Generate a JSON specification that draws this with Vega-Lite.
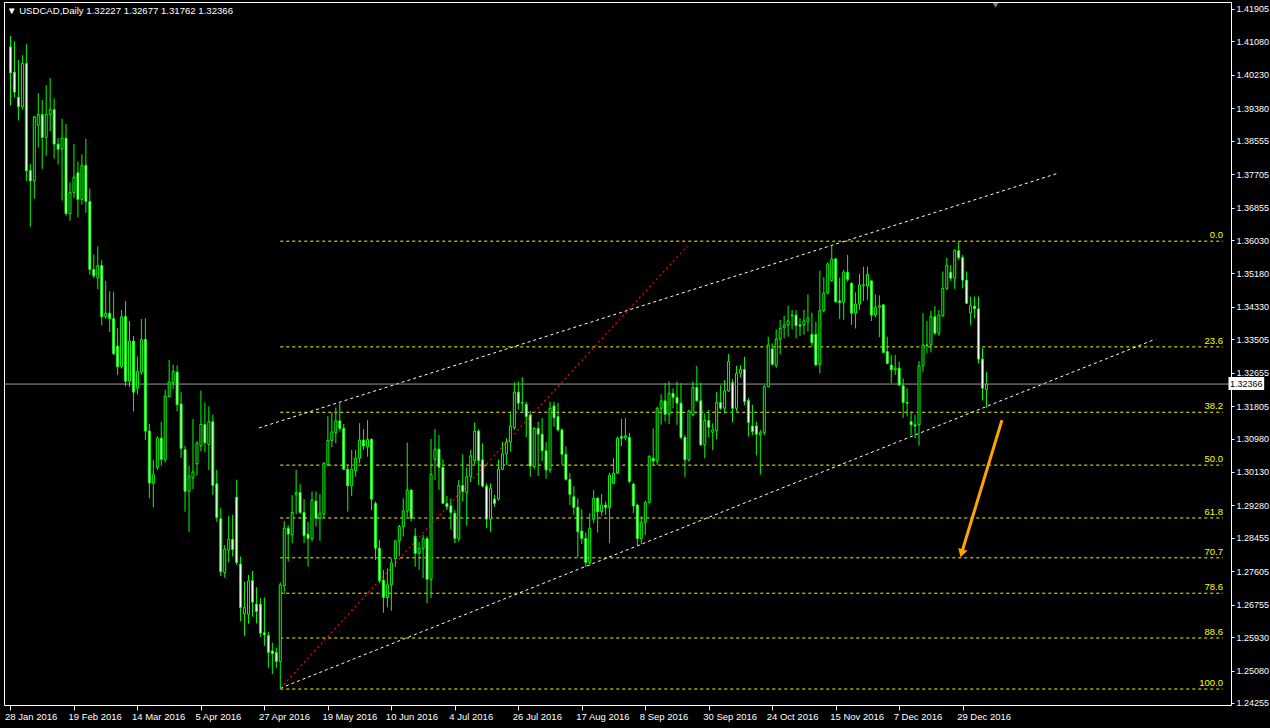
{
  "$schema": "https://vega.github.io/schema/vega-lite/v6.json",
  "width": 1227,
  "height": 703,
  "autosize": {"type": "none"},
  "padding": {"left": 4, "top": 2, "right": 39, "bottom": 23},
  "background": "#000000",
  "config": {"view": {"stroke": "#ffffff", "strokeWidth": 1}, "font": "Liberation Sans"},
  "title": {"text": "▼ USDCAD,Daily  1.32227 1.32677 1.31762 1.32366", "anchor": "start", "frame": "group", "offset": -14, "color": "#ffffff", "fontSize": 9.6, "fontWeight": "normal", "font": "Liberation Sans", "dx": 3},
  "resolve": {"axis": {"x": "independent", "y": "independent"}},
  "datasets": {
    "candles": [
      {"i":0,"o":1.4094,"h":1.4122,"l":1.3945,"c":1.4028},
      {"i":1,"o":1.4030,"h":1.4108,"l":1.3966,"c":1.3979},
      {"i":2,"o":1.3966,"h":1.4061,"l":1.3907,"c":1.3942},
      {"i":3,"o":1.3942,"h":1.4073,"l":1.3935,"c":1.4052},
      {"i":4,"o":1.4052,"h":1.4101,"l":1.3753,"c":1.3779},
      {"i":5,"o":1.3780,"h":1.3797,"l":1.3637,"c":1.3753},
      {"i":6,"o":1.3753,"h":1.3919,"l":1.3708,"c":1.3916},
      {"i":7,"o":1.3895,"h":1.3976,"l":1.3838,"c":1.3922},
      {"i":8,"o":1.3922,"h":1.3959,"l":1.3784,"c":1.3864},
      {"i":9,"o":1.3864,"h":1.3997,"l":1.3817,"c":1.3922},
      {"i":10,"o":1.3922,"h":1.4015,"l":1.3880,"c":1.3935},
      {"i":11,"o":1.3935,"h":1.3963,"l":1.3810,"c":1.3847},
      {"i":12,"o":1.3847,"h":1.3862,"l":1.3795,"c":1.3834},
      {"i":13,"o":1.3834,"h":1.3911,"l":1.3703,"c":1.3862},
      {"i":14,"o":1.3862,"h":1.3898,"l":1.3665,"c":1.3670},
      {"i":15,"o":1.3670,"h":1.3750,"l":1.3652,"c":1.3724},
      {"i":16,"o":1.3724,"h":1.3847,"l":1.3709,"c":1.3763},
      {"i":17,"o":1.3774,"h":1.3803,"l":1.3660,"c":1.3706},
      {"i":18,"o":1.3706,"h":1.3821,"l":1.3693,"c":1.3793},
      {"i":19,"o":1.3793,"h":1.3860,"l":1.3672,"c":1.3701},
      {"i":20,"o":1.3701,"h":1.3734,"l":1.3514,"c":1.3528},
      {"i":21,"o":1.3528,"h":1.3566,"l":1.3506,"c":1.3512},
      {"i":22,"o":1.3507,"h":1.3587,"l":1.3478,"c":1.3538},
      {"i":23,"o":1.3538,"h":1.3552,"l":1.3386,"c":1.3408},
      {"i":24,"o":1.3408,"h":1.3499,"l":1.3402,"c":1.3417},
      {"i":25,"o":1.3417,"h":1.3473,"l":1.3369,"c":1.3403},
      {"i":26,"o":1.3403,"h":1.3471,"l":1.3310,"c":1.3314},
      {"i":27,"o":1.3333,"h":1.3379,"l":1.3260,"c":1.3281},
      {"i":28,"o":1.3281,"h":1.3425,"l":1.3276,"c":1.3408},
      {"i":29,"o":1.3408,"h":1.3448,"l":1.3231,"c":1.3244},
      {"i":30,"o":1.3244,"h":1.3397,"l":1.3229,"c":1.3346},
      {"i":31,"o":1.3346,"h":1.3359,"l":1.3167,"c":1.3216},
      {"i":32,"o":1.3226,"h":1.3307,"l":1.3210,"c":1.3269},
      {"i":33,"o":1.3267,"h":1.3402,"l":1.3260,"c":1.3350},
      {"i":34,"o":1.3350,"h":1.3404,"l":1.3094,"c":1.3117},
      {"i":35,"o":1.3117,"h":1.3135,"l":1.2946,"c":1.2985},
      {"i":36,"o":1.2985,"h":1.3044,"l":1.2923,"c":1.3006},
      {"i":37,"o":1.3024,"h":1.3104,"l":1.3018,"c":1.3099},
      {"i":38,"o":1.3099,"h":1.3141,"l":1.3029,"c":1.3045},
      {"i":39,"o":1.3044,"h":1.3222,"l":1.3037,"c":1.3206},
      {"i":40,"o":1.3205,"h":1.3298,"l":1.3203,"c":1.3242},
      {"i":41,"o":1.3240,"h":1.3286,"l":1.3224,"c":1.3269},
      {"i":42,"o":1.3267,"h":1.3284,"l":1.3167,"c":1.3184},
      {"i":43,"o":1.3186,"h":1.3216,"l":1.3049,"c":1.3073},
      {"i":44,"o":1.3070,"h":1.3080,"l":1.2912,"c":1.2964},
      {"i":45,"o":1.2964,"h":1.3029,"l":1.2860,"c":1.3003},
      {"i":46,"o":1.2998,"h":1.3148,"l":1.2969,"c":1.3013},
      {"i":47,"o":1.3034,"h":1.3091,"l":1.3004,"c":1.3087},
      {"i":48,"o":1.3080,"h":1.3220,"l":1.3066,"c":1.3134},
      {"i":49,"o":1.3134,"h":1.3190,"l":1.3063,"c":1.3087},
      {"i":50,"o":1.3083,"h":1.3180,"l":1.3018,"c":1.3141},
      {"i":51,"o":1.3141,"h":1.3159,"l":1.2954,"c":1.2979},
      {"i":52,"o":1.2983,"h":1.3018,"l":1.2886,"c":1.2897},
      {"i":53,"o":1.2894,"h":1.2921,"l":1.2748,"c":1.2759},
      {"i":54,"o":1.2757,"h":1.2827,"l":1.2744,"c":1.2817},
      {"i":55,"o":1.2814,"h":1.2901,"l":1.2783,"c":1.2842},
      {"i":56,"o":1.2842,"h":1.2904,"l":1.2798,"c":1.2816},
      {"i":57,"o":1.2949,"h":1.2993,"l":1.2777,"c":1.2783},
      {"i":58,"o":1.2779,"h":1.2798,"l":1.2634,"c":1.2668},
      {"i":59,"o":1.2653,"h":1.2734,"l":1.2596,"c":1.2668},
      {"i":60,"o":1.2651,"h":1.2751,"l":1.2627,"c":1.2736},
      {"i":61,"o":1.2737,"h":1.2761,"l":1.2645,"c":1.2682},
      {"i":62,"o":1.2677,"h":1.2720,"l":1.2628,"c":1.2658},
      {"i":63,"o":1.2677,"h":1.2692,"l":1.2594,"c":1.2603},
      {"i":64,"o":1.2604,"h":1.2694,"l":1.2571,"c":1.2599},
      {"i":65,"o":1.2597,"h":1.2606,"l":1.2515,"c":1.2554},
      {"i":66,"o":1.2558,"h":1.2579,"l":1.2499,"c":1.2551},
      {"i":67,"o":1.2554,"h":1.2566,"l":1.2514,"c":1.2531},
      {"i":68,"o":1.2531,"h":1.2732,"l":1.2461,"c":1.2726},
      {"i":69,"o":1.2724,"h":1.2888,"l":1.2703,"c":1.2870},
      {"i":70,"o":1.2870,"h":1.2878,"l":1.2785,"c":1.2855},
      {"i":71,"o":1.2853,"h":1.2954,"l":1.2832,"c":1.2910},
      {"i":72,"o":1.2955,"h":1.3018,"l":1.2906,"c":1.2961},
      {"i":73,"o":1.2961,"h":1.2983,"l":1.2906,"c":1.2910},
      {"i":74,"o":1.2910,"h":1.2944,"l":1.2832,"c":1.2851},
      {"i":75,"o":1.2855,"h":1.2887,"l":1.2772,"c":1.2844},
      {"i":76,"o":1.2844,"h":1.2963,"l":1.2836,"c":1.2942},
      {"i":77,"o":1.2939,"h":1.2963,"l":1.2874,"c":1.2895},
      {"i":78,"o":1.2895,"h":1.2957,"l":1.2838,"c":1.2908},
      {"i":79,"o":1.2906,"h":1.3038,"l":1.2895,"c":1.3035},
      {"i":80,"o":1.3032,"h":1.3155,"l":1.3027,"c":1.3093},
      {"i":81,"o":1.3093,"h":1.3164,"l":1.3076,"c":1.3115},
      {"i":82,"o":1.3113,"h":1.3177,"l":1.3086,"c":1.3143},
      {"i":83,"o":1.3143,"h":1.3189,"l":1.3116,"c":1.3124},
      {"i":84,"o":1.3124,"h":1.3135,"l":1.3018,"c":1.3020},
      {"i":85,"o":1.3020,"h":1.3031,"l":1.2912,"c":1.2978},
      {"i":86,"o":1.2978,"h":1.3069,"l":1.2952,"c":1.3020},
      {"i":87,"o":1.3016,"h":1.3069,"l":1.3001,"c":1.3048},
      {"i":88,"o":1.3048,"h":1.3137,"l":1.3035,"c":1.3094},
      {"i":89,"o":1.3094,"h":1.3122,"l":1.3069,"c":1.3079},
      {"i":90,"o":1.3077,"h":1.3145,"l":1.3052,"c":1.3096},
      {"i":91,"o":1.3096,"h":1.3099,"l":1.2916,"c":1.2944},
      {"i":92,"o":1.2933,"h":1.2938,"l":1.2789,"c":1.2819},
      {"i":93,"o":1.2819,"h":1.2840,"l":1.2730,"c":1.2737},
      {"i":94,"o":1.2738,"h":1.2764,"l":1.2655,"c":1.2694},
      {"i":95,"o":1.2694,"h":1.2768,"l":1.2669,"c":1.2726},
      {"i":96,"o":1.2726,"h":1.2793,"l":1.2660,"c":1.2782},
      {"i":97,"o":1.2793,"h":1.2840,"l":1.2772,"c":1.2838},
      {"i":98,"o":1.2838,"h":1.2878,"l":1.2798,"c":1.2874},
      {"i":99,"o":1.2874,"h":1.2946,"l":1.2849,"c":1.2914},
      {"i":100,"o":1.2914,"h":1.3088,"l":1.2899,"c":1.2967},
      {"i":101,"o":1.2967,"h":1.2969,"l":1.2887,"c":1.2895},
      {"i":102,"o":1.2850,"h":1.2870,"l":1.2772,"c":1.2806},
      {"i":103,"o":1.2806,"h":1.2836,"l":1.2764,"c":1.2819},
      {"i":104,"o":1.2819,"h":1.2853,"l":1.2743,"c":1.2843},
      {"i":105,"o":1.2844,"h":1.2849,"l":1.2679,"c":1.2740},
      {"i":106,"o":1.2740,"h":1.3097,"l":1.2693,"c":1.3007},
      {"i":107,"o":1.3045,"h":1.3122,"l":1.2993,"c":1.3071},
      {"i":108,"o":1.3071,"h":1.3107,"l":1.2967,"c":1.3025},
      {"i":109,"o":1.3025,"h":1.3045,"l":1.2932,"c":1.2933},
      {"i":110,"o":1.2933,"h":1.2952,"l":1.2916,"c":1.2925},
      {"i":111,"o":1.2927,"h":1.2946,"l":1.2867,"c":1.2910},
      {"i":112,"o":1.2908,"h":1.2916,"l":1.2832,"c":1.2844},
      {"i":113,"o":1.2844,"h":1.2993,"l":1.2836,"c":1.2979},
      {"i":114,"o":1.2979,"h":1.3058,"l":1.2938,"c":1.2963},
      {"i":115,"o":1.2961,"h":1.3025,"l":1.2876,"c":1.3001},
      {"i":116,"o":1.3001,"h":1.3069,"l":1.2988,"c":1.3054},
      {"i":117,"o":1.3042,"h":1.3139,"l":1.3033,"c":1.3117},
      {"i":118,"o":1.3117,"h":1.3122,"l":1.2980,"c":1.3042},
      {"i":119,"o":1.3044,"h":1.3086,"l":1.2974,"c":1.2977},
      {"i":120,"o":1.2977,"h":1.2984,"l":1.2870,"c":1.2893},
      {"i":121,"o":1.2893,"h":1.2984,"l":1.2861,"c":1.2972},
      {"i":122,"o":1.2944,"h":1.2955,"l":1.2925,"c":1.2933},
      {"i":123,"o":1.2944,"h":1.3045,"l":1.2940,"c":1.3020},
      {"i":124,"o":1.3020,"h":1.3090,"l":1.3018,"c":1.3059},
      {"i":125,"o":1.3059,"h":1.3099,"l":1.3031,"c":1.3089},
      {"i":126,"o":1.3089,"h":1.3162,"l":1.3065,"c":1.3130},
      {"i":127,"o":1.3126,"h":1.3241,"l":1.3120,"c":1.3216},
      {"i":128,"o":1.3216,"h":1.3243,"l":1.3172,"c":1.3188},
      {"i":129,"o":1.3188,"h":1.3254,"l":1.3167,"c":1.3190},
      {"i":130,"o":1.3185,"h":1.3192,"l":1.3101,"c":1.3154},
      {"i":131,"o":1.3158,"h":1.3168,"l":1.3001,"c":1.3028},
      {"i":132,"o":1.3027,"h":1.3127,"l":1.3020,"c":1.3124},
      {"i":133,"o":1.3124,"h":1.3141,"l":1.3003,"c":1.3109},
      {"i":134,"o":1.3109,"h":1.3150,"l":1.3041,"c":1.3067},
      {"i":135,"o":1.3067,"h":1.3089,"l":1.2996,"c":1.3018},
      {"i":136,"o":1.3018,"h":1.3192,"l":1.3011,"c":1.3175},
      {"i":137,"o":1.3181,"h":1.3192,"l":1.3128,"c":1.3151},
      {"i":138,"o":1.3154,"h":1.3189,"l":1.3116,"c":1.3120},
      {"i":139,"o":1.3120,"h":1.3124,"l":1.3031,"c":1.3058},
      {"i":140,"o":1.3058,"h":1.3078,"l":1.2991,"c":1.2994},
      {"i":141,"o":1.2994,"h":1.3010,"l":1.2929,"c":1.2956},
      {"i":142,"o":1.2950,"h":1.2977,"l":1.2904,"c":1.2923},
      {"i":143,"o":1.2923,"h":1.2946,"l":1.2796,"c":1.2861},
      {"i":144,"o":1.2863,"h":1.2918,"l":1.2830,"c":1.2844},
      {"i":145,"o":1.2844,"h":1.2859,"l":1.2771,"c":1.2783},
      {"i":146,"o":1.2783,"h":1.2908,"l":1.2774,"c":1.2870},
      {"i":147,"o":1.2893,"h":1.2967,"l":1.2883,"c":1.2946},
      {"i":148,"o":1.2946,"h":1.2950,"l":1.2859,"c":1.2912},
      {"i":149,"o":1.2912,"h":1.2957,"l":1.2901,"c":1.2929},
      {"i":150,"o":1.2929,"h":1.2938,"l":1.2904,"c":1.2923},
      {"i":151,"o":1.2923,"h":1.3011,"l":1.2832,"c":1.3005},
      {"i":152,"o":1.2984,"h":1.3048,"l":1.2983,"c":1.3010},
      {"i":153,"o":1.3010,"h":1.3103,"l":1.3008,"c":1.3099},
      {"i":154,"o":1.3103,"h":1.3148,"l":1.3079,"c":1.3099},
      {"i":155,"o":1.3100,"h":1.3150,"l":1.3093,"c":1.3105},
      {"i":156,"o":1.3101,"h":1.3113,"l":1.2984,"c":1.2989},
      {"i":157,"o":1.2982,"h":1.2986,"l":1.2908,"c":1.2927},
      {"i":158,"o":1.2929,"h":1.2933,"l":1.2827,"c":1.2844},
      {"i":159,"o":1.2844,"h":1.2900,"l":1.2829,"c":1.2885},
      {"i":160,"o":1.2885,"h":1.2940,"l":1.2853,"c":1.2935},
      {"i":161,"o":1.2935,"h":1.3056,"l":1.2933,"c":1.3052},
      {"i":162,"o":1.3048,"h":1.3124,"l":1.3031,"c":1.3041},
      {"i":163,"o":1.3041,"h":1.3179,"l":1.3031,"c":1.3175},
      {"i":164,"o":1.3175,"h":1.3211,"l":1.3133,"c":1.3194},
      {"i":165,"o":1.3194,"h":1.3239,"l":1.3141,"c":1.3160},
      {"i":166,"o":1.3160,"h":1.3243,"l":1.3135,"c":1.3213},
      {"i":167,"o":1.3213,"h":1.3226,"l":1.3175,"c":1.3203},
      {"i":168,"o":1.3203,"h":1.3243,"l":1.3133,"c":1.3188},
      {"i":169,"o":1.3188,"h":1.3239,"l":1.3096,"c":1.3101},
      {"i":170,"o":1.3101,"h":1.3107,"l":1.3001,"c":1.3044},
      {"i":171,"o":1.3044,"h":1.3172,"l":1.3039,"c":1.3168},
      {"i":172,"o":1.3158,"h":1.3243,"l":1.3154,"c":1.3228},
      {"i":173,"o":1.3228,"h":1.3283,"l":1.3192,"c":1.3194},
      {"i":174,"o":1.3194,"h":1.3240,"l":1.3079,"c":1.3082},
      {"i":175,"o":1.3082,"h":1.3162,"l":1.3048,"c":1.3144},
      {"i":176,"o":1.3144,"h":1.3171,"l":1.3101,"c":1.3127},
      {"i":177,"o":1.3114,"h":1.3137,"l":1.3069,"c":1.3120},
      {"i":178,"o":1.3118,"h":1.3217,"l":1.3096,"c":1.3190},
      {"i":179,"o":1.3190,"h":1.3234,"l":1.3171,"c":1.3175},
      {"i":180,"o":1.3175,"h":1.3247,"l":1.3162,"c":1.3219},
      {"i":181,"o":1.3219,"h":1.3313,"l":1.3217,"c":1.3294},
      {"i":182,"o":1.3240,"h":1.3249,"l":1.3139,"c":1.3175},
      {"i":183,"o":1.3175,"h":1.3283,"l":1.3167,"c":1.3264},
      {"i":184,"o":1.3264,"h":1.3285,"l":1.3254,"c":1.3274},
      {"i":185,"o":1.3274,"h":1.3306,"l":1.3183,"c":1.3192},
      {"i":186,"o":1.3195,"h":1.3202,"l":1.3103,"c":1.3139},
      {"i":187,"o":1.3130,"h":1.3184,"l":1.3106,"c":1.3116},
      {"i":188,"o":1.3130,"h":1.3141,"l":1.3055,"c":1.3109},
      {"i":189,"o":1.3107,"h":1.3120,"l":1.3006,"c":1.3113},
      {"i":190,"o":1.3113,"h":1.3234,"l":1.3107,"c":1.3230},
      {"i":191,"o":1.3230,"h":1.3357,"l":1.3228,"c":1.3336},
      {"i":192,"o":1.3326,"h":1.3340,"l":1.3283,"c":1.3287},
      {"i":193,"o":1.3284,"h":1.3376,"l":1.3277,"c":1.3351},
      {"i":194,"o":1.3351,"h":1.3400,"l":1.3312,"c":1.3378},
      {"i":195,"o":1.3380,"h":1.3410,"l":1.3353,"c":1.3387},
      {"i":196,"o":1.3387,"h":1.3436,"l":1.3357,"c":1.3397},
      {"i":197,"o":1.3410,"h":1.3425,"l":1.3376,"c":1.3412},
      {"i":198,"o":1.3412,"h":1.3425,"l":1.3353,"c":1.3385},
      {"i":199,"o":1.3387,"h":1.3404,"l":1.3359,"c":1.3384},
      {"i":200,"o":1.3387,"h":1.3425,"l":1.3362,"c":1.3397},
      {"i":201,"o":1.3395,"h":1.3465,"l":1.3370,"c":1.3404},
      {"i":202,"o":1.3363,"h":1.3418,"l":1.3332,"c":1.3342},
      {"i":203,"o":1.3363,"h":1.3395,"l":1.3283,"c":1.3285},
      {"i":204,"o":1.3287,"h":1.3525,"l":1.3264,"c":1.3423},
      {"i":205,"o":1.3423,"h":1.3508,"l":1.3419,"c":1.3468},
      {"i":206,"o":1.3468,"h":1.3546,"l":1.3465,"c":1.3542},
      {"i":207,"o":1.3500,"h":1.3590,"l":1.3497,"c":1.3555},
      {"i":208,"o":1.3555,"h":1.3557,"l":1.3444,"c":1.3446},
      {"i":209,"o":1.3448,"h":1.3507,"l":1.3402,"c":1.3444},
      {"i":210,"o":1.3445,"h":1.3527,"l":1.3400,"c":1.3521},
      {"i":211,"o":1.3521,"h":1.3565,"l":1.3497,"c":1.3503},
      {"i":212,"o":1.3493,"h":1.3495,"l":1.3387,"c":1.3417},
      {"i":213,"o":1.3417,"h":1.3470,"l":1.3378,"c":1.3440},
      {"i":214,"o":1.3440,"h":1.3517,"l":1.3425,"c":1.3489},
      {"i":215,"o":1.3487,"h":1.3535,"l":1.3448,"c":1.3489},
      {"i":216,"o":1.3486,"h":1.3535,"l":1.3451,"c":1.3516},
      {"i":217,"o":1.3499,"h":1.3500,"l":1.3397,"c":1.3412},
      {"i":218,"o":1.3412,"h":1.3465,"l":1.3406,"c":1.3432},
      {"i":219,"o":1.3432,"h":1.3462,"l":1.3356,"c":1.3436},
      {"i":220,"o":1.3438,"h":1.3440,"l":1.3315,"c":1.3317},
      {"i":221,"o":1.3319,"h":1.3357,"l":1.3287,"c":1.3289},
      {"i":222,"o":1.3285,"h":1.3311,"l":1.3239,"c":1.3273},
      {"i":223,"o":1.3273,"h":1.3311,"l":1.3260,"c":1.3277},
      {"i":224,"o":1.3277,"h":1.3294,"l":1.3233,"c":1.3234},
      {"i":225,"o":1.3232,"h":1.3251,"l":1.3151,"c":1.3190},
      {"i":226,"o":1.3190,"h":1.3226,"l":1.3154,"c":1.3188},
      {"i":227,"o":1.3141,"h":1.3167,"l":1.3107,"c":1.3133},
      {"i":228,"o":1.3133,"h":1.3158,"l":1.3099,"c":1.3130},
      {"i":229,"o":1.3133,"h":1.3295,"l":1.3080,"c":1.3283},
      {"i":230,"o":1.3283,"h":1.3417,"l":1.3268,"c":1.3336},
      {"i":231,"o":1.3336,"h":1.3397,"l":1.3315,"c":1.3334},
      {"i":232,"o":1.3336,"h":1.3423,"l":1.3317,"c":1.3408},
      {"i":233,"o":1.3408,"h":1.3435,"l":1.3362,"c":1.3366},
      {"i":234,"o":1.3366,"h":1.3425,"l":1.3359,"c":1.3412},
      {"i":235,"o":1.3410,"h":1.3523,"l":1.3408,"c":1.3480},
      {"i":236,"o":1.3480,"h":1.3558,"l":1.3476,"c":1.3538},
      {"i":237,"o":1.3521,"h":1.3540,"l":1.3499,"c":1.3506},
      {"i":238,"o":1.3506,"h":1.3580,"l":1.3479,"c":1.3576},
      {"i":239,"o":1.3576,"h":1.3600,"l":1.3552,"c":1.3558},
      {"i":240,"o":1.3558,"h":1.3565,"l":1.3480,"c":1.3501},
      {"i":241,"o":1.3501,"h":1.3523,"l":1.3440,"c":1.3442},
      {"i":242,"o":1.3417,"h":1.3459,"l":1.3387,"c":1.3436},
      {"i":243,"o":1.3435,"h":1.3459,"l":1.3404,"c":1.3428},
      {"i":244,"o":1.3428,"h":1.3459,"l":1.3289,"c":1.3300},
      {"i":245,"o":1.3300,"h":1.3328,"l":1.3195,"c":1.3226},
      {"i":246,"o":1.32227,"h":1.32677,"l":1.31762,"c":1.32366}
    ],
    "fib": [
      {"lvl":"0.0","p":1.3600},
      {"lvl":"23.6","p":1.33312},
      {"lvl":"38.2","p":1.31649},
      {"lvl":"50.0","p":1.30305},
      {"lvl":"61.8","p":1.28961},
      {"lvl":"70.7","p":1.27947},
      {"lvl":"78.6","p":1.27047},
      {"lvl":"88.6","p":1.25908},
      {"lvl":"100.0","p":1.2461}
    ],
    "lines": [
      {"name":"upper","i":62.6,"p":1.3125},
      {"name":"upper","i":264.1,"p":1.3773},
      {"name":"lower","i":68,"p":1.2463},
      {"name":"lower","i":288.6,"p":1.3351},
      {"name":"red","i":68,"p":1.2463},
      {"name":"red","i":170.6,"p":1.3588}
    ],
    "arrow": [
      {"i":249.9,"p":1.3145},
      {"i":239.95,"p":1.2814}
    ],
    "arrowhead": [
      {"i":239.75,"p":1.2806}
    ]
  },
  "layer": [
    {
      "data": {"name": "fib"},
      "mark": {"type": "rule", "color": "#ffff00", "strokeWidth": 1, "strokeDash": [3, 3]},
      "encoding": {
        "x": {"datum": 68, "type": "quantitative", "scale": {"domain": [-0.375, 306.375], "nice": false, "zero": false}, "axis": null},
        "x2": {"datum": 305.6},
        "y": {"field": "p", "type": "quantitative", "scale": {"domain": [1.24204, 1.42083], "nice": false, "zero": false}, "axis": null}
      }
    },
    {
      "data": {"name": "fib"},
      "mark": {"type": "text", "color": "#ffff00", "fontSize": 9.5, "font": "Liberation Sans", "align": "right", "baseline": "bottom", "dy": -1},
      "encoding": {
        "x": {"datum": 305.6, "type": "quantitative", "scale": {"domain": [-0.375, 306.375], "nice": false, "zero": false}, "axis": null},
        "y": {"field": "p", "type": "quantitative", "scale": {"domain": [1.24204, 1.42083], "nice": false, "zero": false}, "axis": null},
        "text": {"field": "lvl"}
      }
    },
    {
      "data": {"name": "lines"},
      "transform": [{"filter": "datum.name === 'upper'"}],
      "mark": {"type": "line", "color": "#ffffff", "strokeWidth": 1, "strokeDash": [3, 3]},
      "encoding": {
        "x": {"field": "i", "type": "quantitative", "scale": {"domain": [-0.375, 306.375], "nice": false, "zero": false}, "axis": null},
        "y": {"field": "p", "type": "quantitative", "scale": {"domain": [1.24204, 1.42083], "nice": false, "zero": false}, "axis": null}
      }
    },
    {
      "data": {"name": "lines"},
      "transform": [{"filter": "datum.name === 'lower'"}],
      "mark": {"type": "line", "color": "#ffffff", "strokeWidth": 1, "strokeDash": [3, 3]},
      "encoding": {
        "x": {"field": "i", "type": "quantitative", "scale": {"domain": [-0.375, 306.375], "nice": false, "zero": false}, "axis": null},
        "y": {"field": "p", "type": "quantitative", "scale": {"domain": [1.24204, 1.42083], "nice": false, "zero": false}, "axis": null}
      }
    },
    {
      "data": {"name": "lines"},
      "transform": [{"filter": "datum.name === 'red'"}],
      "mark": {"type": "line", "color": "#ff0000", "strokeWidth": 1.2, "strokeDash": [2, 3]},
      "encoding": {
        "x": {"field": "i", "type": "quantitative", "scale": {"domain": [-0.375, 306.375], "nice": false, "zero": false}, "axis": null},
        "y": {"field": "p", "type": "quantitative", "scale": {"domain": [1.24204, 1.42083], "nice": false, "zero": false}, "axis": null}
      }
    },
    {
      "data": {"values": [{}]},
      "mark": {"type": "rule", "color": "#9a9a9a", "strokeWidth": 1},
      "encoding": {
        "y": {"datum": 1.32366, "type": "quantitative", "scale": {"domain": [1.24204, 1.42083], "nice": false, "zero": false}, "axis": null}
      }
    },
    {
      "data": {"name": "candles"},
      "mark": {"type": "rule", "color": "#00ff00", "strokeWidth": 1},
      "encoding": {
        "x": {"field": "i", "type": "quantitative", "scale": {"domain": [-0.375, 306.375], "nice": false, "zero": false},
          "axis": {"values": [0,16,32,48,64,80,96,112,128,144,160,176,192,208,224,240],
            "labelExpr": "['28 Jan 2016','19 Feb 2016','14 Mar 2016','5 Apr 2016','27 Apr 2016','19 May 2016','10 Jun 2016','4 Jul 2016','26 Jul 2016','17 Aug 2016','8 Sep 2016','30 Sep 2016','24 Oct 2016','15 Nov 2016','7 Dec 2016','29 Dec 2016'][round(datum.value/16)]",
            "domain": false, "grid": false, "ticks": true, "tickColor": "#ffffff", "tickSize": 5, "labelColor": "#ffffff", "labelFontSize": 9.5, "labelFont": "Liberation Sans", "labelAlign": "left", "labelBaseline": "top", "labelPadding": 1, "labelOffset": -6, "labelOverlap": false, "labelFlush": false, "title": null}},
        "y": {"field": "l", "type": "quantitative", "scale": {"domain": [1.24204, 1.42083], "nice": false, "zero": false},
          "axis": {"orient": "right", "values": [1.24255,1.2508,1.2593,1.26755,1.27605,1.28455,1.2928,1.3013,1.3098,1.31805,1.32655,1.33505,1.3433,1.3518,1.3603,1.36855,1.37705,1.38555,1.3938,1.4023,1.4108,1.41905],
            "format": ".5f", "domain": false, "grid": false, "tickColor": "#ffffff", "tickSize": 3, "labelColor": "#ffffff", "labelFontSize": 9, "labelFont": "Liberation Sans", "labelPadding": 2, "labelOverlap": false, "labelFlush": false, "title": null}},
        "y2": {"field": "h"}
      }
    },
    {
      "data": {"name": "candles"},
      "mark": {"type": "bar", "width": 2, "stroke": "#00ff00", "strokeWidth": 1},
      "encoding": {
        "x": {"field": "i", "type": "quantitative", "scale": {"domain": [-0.375, 306.375], "nice": false, "zero": false}, "axis": null},
        "y": {"field": "o", "type": "quantitative", "scale": {"domain": [1.24204, 1.42083], "nice": false, "zero": false}, "axis": null},
        "y2": {"field": "c"},
        "fill": {"condition": {"test": "datum.c < datum.o", "value": "#ffffff"}, "value": "#000000"}
      }
    },
    {
      "data": {"name": "arrow"},
      "mark": {"type": "line", "color": "#ffa500", "strokeWidth": 3},
      "encoding": {
        "x": {"field": "i", "type": "quantitative", "scale": {"domain": [-0.375, 306.375], "nice": false, "zero": false}, "axis": null},
        "y": {"field": "p", "type": "quantitative", "scale": {"domain": [1.24204, 1.42083], "nice": false, "zero": false}, "axis": null}
      }
    },
    {
      "data": {"name": "arrowhead"},
      "mark": {"type": "point", "shape": "triangle-up", "filled": true, "color": "#ffa500", "size": 90, "angle": 197, "opacity": 1},
      "encoding": {
        "x": {"field": "i", "type": "quantitative", "scale": {"domain": [-0.375, 306.375], "nice": false, "zero": false}, "axis": null},
        "y": {"field": "p", "type": "quantitative", "scale": {"domain": [1.24204, 1.42083], "nice": false, "zero": false}, "axis": null}
      }
    },
    {
      "data": {"values": [{}]},
      "mark": {"type": "rect", "color": "#ffffff"},
      "encoding": {
        "x": {"datum": 307.0, "type": "quantitative", "scale": {"domain": [-0.375, 306.375], "nice": false, "zero": false}, "axis": null},
        "x2": {"datum": 316.0},
        "y": {"datum": 1.32546, "type": "quantitative", "scale": {"domain": [1.24204, 1.42083], "nice": false, "zero": false}, "axis": null},
        "y2": {"datum": 1.32214}
      }
    },
    {
      "data": {"values": [{"t": "1.32366"}]},
      "mark": {"type": "text", "color": "#000000", "fontSize": 9, "font": "Liberation Sans", "align": "left", "baseline": "middle"},
      "encoding": {
        "x": {"datum": 307.4, "type": "quantitative", "scale": {"domain": [-0.375, 306.375], "nice": false, "zero": false}, "axis": null},
        "y": {"datum": 1.32366, "type": "quantitative", "scale": {"domain": [1.24204, 1.42083], "nice": false, "zero": false}, "axis": null},
        "text": {"field": "t"}
      }
    },
    {
      "data": {"values": [{}]},
      "mark": {"type": "point", "shape": "triangle-down", "filled": true, "color": "#808080", "size": 30, "opacity": 1},
      "encoding": {
        "x": {"datum": 248.3, "type": "quantitative", "scale": {"domain": [-0.375, 306.375], "nice": false, "zero": false}, "axis": null},
        "y": {"datum": 1.4200, "type": "quantitative", "scale": {"domain": [1.24204, 1.42083], "nice": false, "zero": false}, "axis": null}
      }
    }
  ]
}
